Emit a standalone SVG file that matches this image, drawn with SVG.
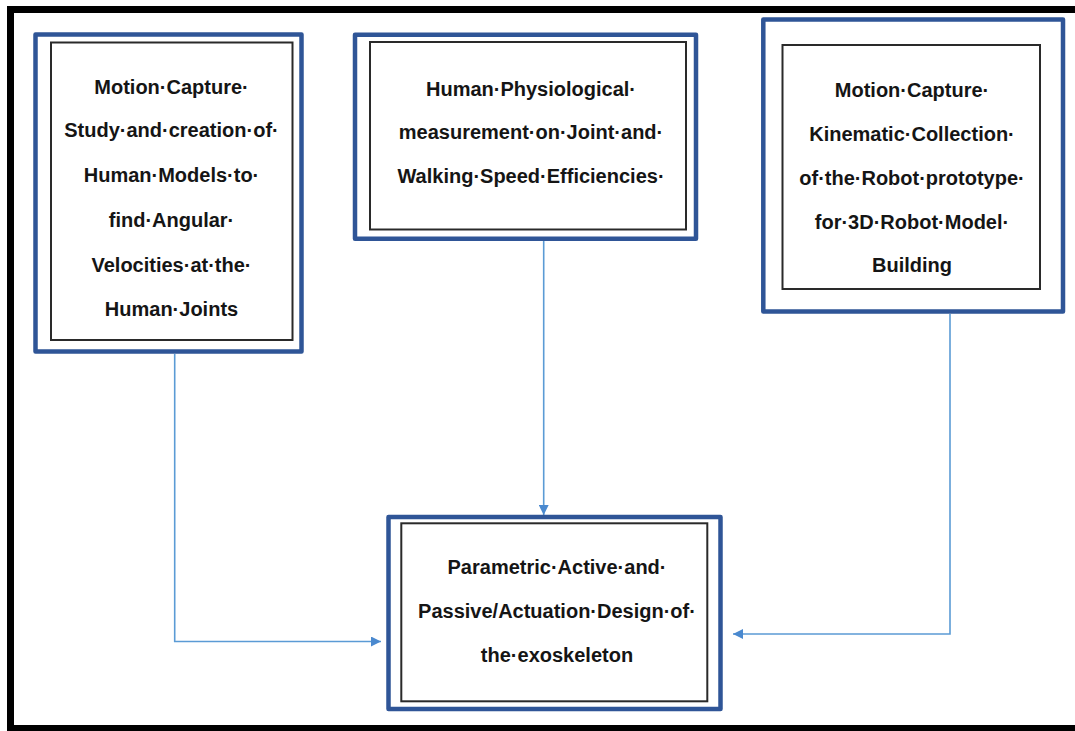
<svg xmlns="http://www.w3.org/2000/svg" width="1075" height="731" viewBox="0 0 1075 731">
  <defs>
    <style>
      .outer { fill: none; stroke: #2f5597; stroke-width: 4.5; stroke-linejoin: round; }
      .inner { fill: #ffffff; stroke: #2a2a2a; stroke-width: 2; }
      .lbl { font-family: "Liberation Sans", Arial, sans-serif; font-weight: bold; font-size: 20px; fill: #151515; text-anchor: middle; }
      .conn { fill: none; stroke: #5b9bd5; stroke-width: 1.6; }
    </style>
    <marker id="arrow" viewBox="0 0 10 10" refX="10" refY="5" markerWidth="10" markerHeight="10" markerUnits="userSpaceOnUse" orient="auto">
      <path d="M0,0 L10,5 L0,10 Z" fill="#4a89cf"/>
    </marker>
  </defs>
  <rect x="0" y="0" width="1075" height="731" fill="#ffffff"/>
  <path d="M1080,9.5 L10.5,9.5 L10.5,728.5 L1080,728.5" fill="none" stroke="#000000" stroke-width="7"/>

  <g id="connectors">
    <path class="conn" d="M174.7,354 L174.7,641.5 L381,641.5" marker-end="url(#arrow)"/>
    <path class="conn" d="M543.7,241 L543.7,515" marker-end="url(#arrow)"/>
    <path class="conn" d="M950,314 L950,634 L733,634" marker-end="url(#arrow)"/>
  </g>

  <g id="node1">
    <rect class="outer" x="35.5" y="34.5" width="266" height="317"/>
    <rect class="inner" x="51" y="42.5" width="241.5" height="297.5"/>
    <text class="lbl" x="171.5" y="94">Motion·Capture·</text>
    <text class="lbl" x="171.5" y="137">Study·and·creation·of·</text>
    <text class="lbl" x="171.5" y="182">Human·Models·to·</text>
    <text class="lbl" x="171.5" y="226.5">find·Angular·</text>
    <text class="lbl" x="171.5" y="271.5">Velocities·at·the·</text>
    <text class="lbl" x="171.5" y="316">Human·Joints</text>
  </g>

  <g id="node2">
    <rect class="outer" x="355" y="34.7" width="341" height="204"/>
    <rect class="inner" x="370" y="42" width="316" height="187.5"/>
    <text class="lbl" x="531" y="95.5">Human·Physiological·</text>
    <text class="lbl" x="531" y="139">measurement·on·Joint·and·</text>
    <text class="lbl" x="531" y="182.5">Walking·Speed·Efficiencies·</text>
  </g>

  <g id="node3">
    <rect class="outer" x="763.3" y="19.5" width="299.7" height="292"/>
    <rect class="inner" x="782.5" y="45" width="257.5" height="244"/>
    <text class="lbl" x="912" y="97">Motion·Capture·</text>
    <text class="lbl" x="912" y="141">Kinematic·Collection·</text>
    <text class="lbl" x="912" y="185">of·the·Robot·prototype·</text>
    <text class="lbl" x="912" y="228.5">for·3D·Robot·Model·</text>
    <text class="lbl" x="912" y="272">Building</text>
  </g>

  <g id="node4">
    <rect class="outer" x="388.5" y="517" width="332" height="192"/>
    <rect class="inner" x="401.3" y="523.3" width="306" height="178"/>
    <text class="lbl" x="557" y="574">Parametric·Active·and·</text>
    <text class="lbl" x="557" y="618">Passive/Actuation·Design·of·</text>
    <text class="lbl" x="557" y="662">the·exoskeleton</text>
  </g>
</svg>
